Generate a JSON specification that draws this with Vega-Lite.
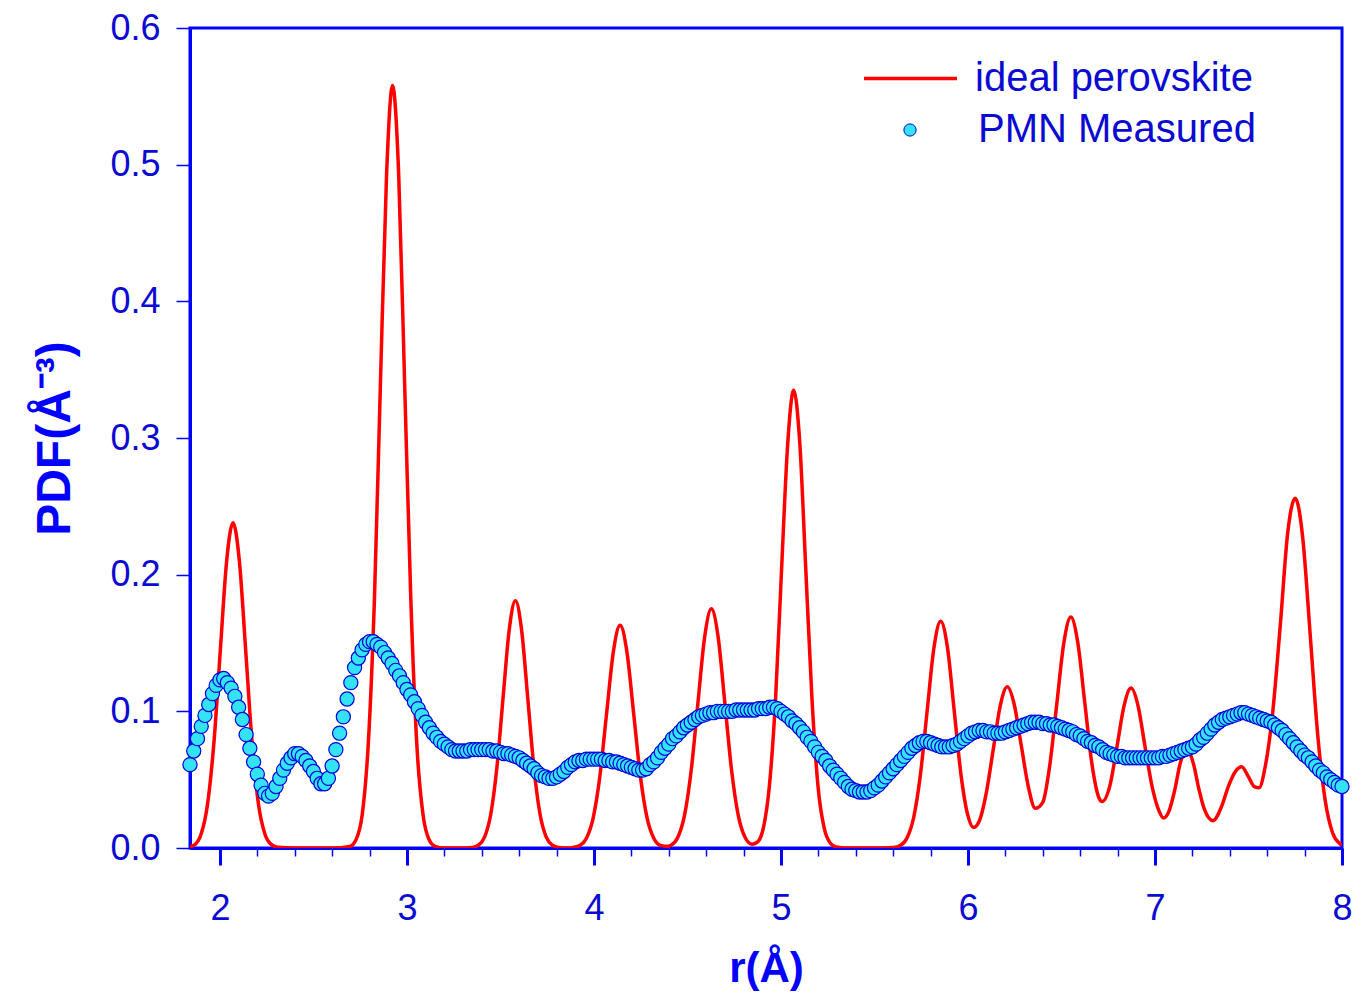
{
  "$schema": "https://vega.github.io/schema/vega-lite/v6.json",
  "width": 1152,
  "height": 820,
  "autosize": {"type": "none"},
  "padding": {"left": 190, "top": 28, "right": 14, "bottom": 156},
  "background": "white",
  "config": {
    "view": {"stroke": "#0000ff", "strokeWidth": 3},
    "font": "Liberation Sans",
    "axis": {"domainColor": "#0000ff", "domainWidth": 3, "tickColor": "#0000ff", "grid": false,
      "labelColor": "#0a0ad2", "labelFont": "Liberation Sans", "labelFontSize": 36,
      "titleColor": "#0000ff", "titleFont": "Liberation Sans", "titleFontWeight": "bold", "titleFontSize": 40},
    "legend": {"labelFont": "Liberation Sans", "labelFontSize": 40, "labelColor": "#0a0ad2", "padding": 0, "labelLimit": 0}
  },
  "datasets": {
    "ideal": [
      {"r":1.84,"g":0.001},{"r":1.87,"g":0.003},{"r":1.9,"g":0.0104},{"r":1.934,"g":0.0322},{"r":1.968,"g":0.0773},{"r":2.002,"g":0.1443},{"r":2.036,"g":0.21},{"r":2.07,"g":0.238},{"r":2.104,"g":0.21},{"r":2.138,"g":0.1443},{"r":2.172,"g":0.0773},{"r":2.206,"g":0.0322},{"r":2.24,"g":0.0104},{"r":2.274,"g":0.0026},{"r":2.31,"g":0.0005},{"r":2.4,"g":0},{"r":2.6,"g":0},
      {"r":2.695,"g":0.0012},{"r":2.728,"g":0.0062},{"r":2.761,"g":0.0245},{"r":2.793,"g":0.0755},{"r":2.826,"g":0.1812},{"r":2.858,"g":0.3384},{"r":2.891,"g":0.4924},{"r":2.923,"g":0.558},{"r":2.956,"g":0.4924},{"r":2.988,"g":0.3384},{"r":3.021,"g":0.1812},{"r":3.053,"g":0.0755},{"r":3.086,"g":0.0245},{"r":3.118,"g":0.0062},{"r":3.151,"g":0.0012},{"r":3.2,"g":0},{"r":3.3,"g":0},
      {"r":3.349,"g":0.0004},{"r":3.382,"g":0.002},{"r":3.415,"g":0.0079},{"r":3.448,"g":0.0245},{"r":3.481,"g":0.0588},{"r":3.514,"g":0.1098},{"r":3.547,"g":0.1597},{"r":3.58,"g":0.181},{"r":3.613,"g":0.1597},{"r":3.646,"g":0.1098},{"r":3.679,"g":0.0588},{"r":3.712,"g":0.0245},{"r":3.745,"g":0.0079},{"r":3.778,"g":0.002},{"r":3.811,"g":0.0004},{"r":3.86,"g":0},
      {"r":3.888,"g":0.0004},{"r":3.924,"g":0.0018},{"r":3.96,"g":0.0072},{"r":3.996,"g":0.0221},{"r":4.032,"g":0.0529},{"r":4.068,"g":0.0989},{"r":4.104,"g":0.1438},{"r":4.14,"g":0.163},{"r":4.176,"g":0.1438},{"r":4.212,"g":0.0989},{"r":4.248,"g":0.0529},{"r":4.284,"g":0.0221},{"r":4.32,"g":0.0072},{"r":4.356,"g":0.0019},{"r":4.392,"g":0.0012},
      {"r":4.412,"g":0.002},{"r":4.448,"g":0.0077},{"r":4.484,"g":0.0237},{"r":4.52,"g":0.0568},{"r":4.556,"g":0.1061},{"r":4.592,"g":0.1544},{"r":4.628,"g":0.175},{"r":4.664,"g":0.1544},{"r":4.7,"g":0.1061},{"r":4.736,"g":0.0568},{"r":4.772,"g":0.0237},{"r":4.808,"g":0.0078},{"r":4.844,"g":0.0028},
      {"r":4.873,"g":0.0042},{"r":4.906,"g":0.0147},{"r":4.938,"g":0.0453},{"r":4.971,"g":0.1088},{"r":5.003,"g":0.2032},{"r":5.036,"g":0.2956},{"r":5.068,"g":0.335},{"r":5.101,"g":0.2956},{"r":5.133,"g":0.2032},{"r":5.166,"g":0.1088},{"r":5.198,"g":0.0453},{"r":5.231,"g":0.0147},{"r":5.263,"g":0.0037},{"r":5.296,"g":0.0007},{"r":5.35,"g":0},{"r":5.55,"g":0},
      {"r":5.6,"g":0.0003},{"r":5.638,"g":0.0018},{"r":5.674,"g":0.0073},{"r":5.71,"g":0.0225},{"r":5.746,"g":0.0539},{"r":5.782,"g":0.1007},{"r":5.818,"g":0.1465},{"r":5.854,"g":0.166},{"r":5.89,"g":0.147},{"r":5.926,"g":0.101},{"r":5.962,"g":0.0544},{"r":5.998,"g":0.0246},{"r":6.03,"g":0.015},
      {"r":6.06,"g":0.0196},{"r":6.0975,"g":0.04},{"r":6.135,"g":0.072},{"r":6.1725,"g":0.104},{"r":6.21,"g":0.118},{"r":6.2475,"g":0.105},{"r":6.285,"g":0.075},{"r":6.3225,"g":0.045},{"r":6.36,"g":0.029},
      {"r":6.4,"g":0.0334},{"r":6.4375,"g":0.0607},{"r":6.475,"g":0.1055},{"r":6.5125,"g":0.15},{"r":6.55,"g":0.169},{"r":6.5875,"g":0.15},{"r":6.625,"g":0.1058},{"r":6.6625,"g":0.0618},{"r":6.7,"g":0.0368},{"r":6.718,"g":0.034},
      {"r":6.7595,"g":0.046},{"r":6.797,"g":0.0744},{"r":6.8345,"g":0.104},{"r":6.872,"g":0.117},{"r":6.9095,"g":0.104},{"r":6.947,"g":0.074},{"r":6.9845,"g":0.045},{"r":7.022,"g":0.027},{"r":7.045,"g":0.022},
      {"r":7.075,"g":0.027},{"r":7.105,"g":0.042},{"r":7.135,"g":0.062},{"r":7.17,"g":0.072},{"r":7.205,"g":0.062},{"r":7.235,"g":0.043},{"r":7.265,"g":0.028},{"r":7.31,"g":0.02},{"r":7.355,"g":0.03},{"r":7.395,"g":0.046},{"r":7.43,"g":0.056},{"r":7.463,"g":0.0595},{"r":7.5,"g":0.052},{"r":7.53,"g":0.045},{"r":7.556,"g":0.044},
      {"r":7.59,"g":0.06},{"r":7.63,"g":0.1},{"r":7.67,"g":0.163},{"r":7.71,"g":0.231},{"r":7.75,"g":0.256},{"r":7.79,"g":0.227},{"r":7.83,"g":0.156},{"r":7.87,"g":0.083},{"r":7.91,"g":0.035},{"r":7.95,"g":0.011},{"r":7.99,"g":0.003},{"r":8.0,"g":0.002}
    ],
    "pmn": [
      {"r":1.84,"g":0.061},{"r":1.86,"g":0.071},{"r":1.88,"g":0.08},{"r":1.9,"g":0.089},{"r":1.92,"g":0.097},{"r":1.94,"g":0.105},{"r":1.96,"g":0.113},{"r":1.98,"g":0.119},{"r":2.0,"g":0.123},{"r":2.02,"g":0.124},
      {"r":2.04,"g":0.121},{"r":2.06,"g":0.117},{"r":2.08,"g":0.111},{"r":2.1,"g":0.103},{"r":2.12,"g":0.094},{"r":2.14,"g":0.083},{"r":2.16,"g":0.073},{"r":2.18,"g":0.063},{"r":2.2,"g":0.054},{"r":2.22,"g":0.046},
      {"r":2.24,"g":0.04},{"r":2.26,"g":0.038},{"r":2.28,"g":0.04},{"r":2.3,"g":0.045},{"r":2.32,"g":0.051},{"r":2.34,"g":0.057},{"r":2.36,"g":0.062},{"r":2.38,"g":0.066},{"r":2.4,"g":0.069},{"r":2.42,"g":0.069},
      {"r":2.44,"g":0.067},{"r":2.46,"g":0.064},{"r":2.48,"g":0.06},{"r":2.5,"g":0.056},{"r":2.52,"g":0.051},{"r":2.54,"g":0.047},{"r":2.56,"g":0.047},{"r":2.58,"g":0.051},{"r":2.6,"g":0.06},{"r":2.62,"g":0.072},
      {"r":2.64,"g":0.084},{"r":2.66,"g":0.096},{"r":2.68,"g":0.109},{"r":2.7,"g":0.121},{"r":2.72,"g":0.132},{"r":2.74,"g":0.139},{"r":2.76,"g":0.145},{"r":2.78,"g":0.149},{"r":2.8,"g":0.151},{"r":2.82,"g":0.151},
      {"r":2.84,"g":0.149},{"r":2.86,"g":0.147},{"r":2.88,"g":0.143},{"r":2.9,"g":0.139},{"r":2.92,"g":0.135},{"r":2.94,"g":0.13},{"r":2.96,"g":0.126},{"r":2.98,"g":0.121},{"r":3.0,"g":0.116},{"r":3.02,"g":0.112},
      {"r":3.04,"g":0.107},{"r":3.06,"g":0.102},{"r":3.08,"g":0.097},{"r":3.1,"g":0.092},{"r":3.12,"g":0.088},{"r":3.14,"g":0.084},{"r":3.16,"g":0.081},{"r":3.18,"g":0.078},{"r":3.2,"g":0.076},{"r":3.22,"g":0.074},
      {"r":3.24,"g":0.072},{"r":3.26,"g":0.071},{"r":3.28,"g":0.071},{"r":3.3,"g":0.071},{"r":3.32,"g":0.071},{"r":3.34,"g":0.072},{"r":3.36,"g":0.072},{"r":3.38,"g":0.072},{"r":3.4,"g":0.072},{"r":3.42,"g":0.072},
      {"r":3.44,"g":0.072},{"r":3.46,"g":0.071},{"r":3.48,"g":0.071},{"r":3.5,"g":0.07},{"r":3.52,"g":0.069},{"r":3.54,"g":0.069},{"r":3.56,"g":0.068},{"r":3.58,"g":0.067},{"r":3.6,"g":0.066},{"r":3.62,"g":0.064},
      {"r":3.64,"g":0.062},{"r":3.66,"g":0.06},{"r":3.68,"g":0.058},{"r":3.7,"g":0.055},{"r":3.72,"g":0.053},{"r":3.74,"g":0.052},{"r":3.76,"g":0.051},{"r":3.78,"g":0.051},{"r":3.8,"g":0.052},{"r":3.82,"g":0.054},
      {"r":3.84,"g":0.056},{"r":3.86,"g":0.059},{"r":3.88,"g":0.061},{"r":3.9,"g":0.063},{"r":3.92,"g":0.064},{"r":3.94,"g":0.064},{"r":3.96,"g":0.065},{"r":3.98,"g":0.065},{"r":4.0,"g":0.065},{"r":4.02,"g":0.065},
      {"r":4.04,"g":0.065},{"r":4.06,"g":0.064},{"r":4.08,"g":0.064},{"r":4.1,"g":0.063},{"r":4.12,"g":0.063},{"r":4.14,"g":0.062},{"r":4.16,"g":0.061},{"r":4.18,"g":0.06},{"r":4.2,"g":0.059},{"r":4.22,"g":0.058},
      {"r":4.24,"g":0.057},{"r":4.26,"g":0.057},{"r":4.28,"g":0.058},{"r":4.3,"g":0.061},{"r":4.32,"g":0.063},{"r":4.34,"g":0.066},{"r":4.36,"g":0.07},{"r":4.38,"g":0.073},{"r":4.4,"g":0.076},{"r":4.42,"g":0.08},
      {"r":4.44,"g":0.082},{"r":4.46,"g":0.085},{"r":4.48,"g":0.088},{"r":4.5,"g":0.09},{"r":4.52,"g":0.092},{"r":4.54,"g":0.094},{"r":4.56,"g":0.096},{"r":4.58,"g":0.097},{"r":4.6,"g":0.098},{"r":4.62,"g":0.099},
      {"r":4.64,"g":0.099},{"r":4.66,"g":0.1},{"r":4.68,"g":0.1},{"r":4.7,"g":0.1},{"r":4.72,"g":0.1},{"r":4.74,"g":0.1},{"r":4.76,"g":0.101},{"r":4.78,"g":0.101},{"r":4.8,"g":0.101},{"r":4.82,"g":0.101},
      {"r":4.84,"g":0.101},{"r":4.86,"g":0.101},{"r":4.88,"g":0.102},{"r":4.9,"g":0.102},{"r":4.92,"g":0.102},{"r":4.94,"g":0.103},{"r":4.96,"g":0.103},{"r":4.98,"g":0.102},{"r":5.0,"g":0.1},{"r":5.02,"g":0.098},
      {"r":5.04,"g":0.096},{"r":5.06,"g":0.093},{"r":5.08,"g":0.091},{"r":5.1,"g":0.088},{"r":5.12,"g":0.085},{"r":5.14,"g":0.081},{"r":5.16,"g":0.078},{"r":5.18,"g":0.074},{"r":5.2,"g":0.07},{"r":5.22,"g":0.067},
      {"r":5.24,"g":0.064},{"r":5.26,"g":0.06},{"r":5.28,"g":0.057},{"r":5.3,"g":0.054},{"r":5.32,"g":0.051},{"r":5.34,"g":0.048},{"r":5.36,"g":0.045},{"r":5.38,"g":0.043},{"r":5.4,"g":0.042},{"r":5.42,"g":0.041},
      {"r":5.44,"g":0.041},{"r":5.46,"g":0.041},{"r":5.48,"g":0.042},{"r":5.5,"g":0.044},{"r":5.52,"g":0.046},{"r":5.54,"g":0.049},{"r":5.56,"g":0.052},{"r":5.58,"g":0.055},{"r":5.6,"g":0.058},{"r":5.62,"g":0.061},
      {"r":5.64,"g":0.064},{"r":5.66,"g":0.067},{"r":5.68,"g":0.07},{"r":5.7,"g":0.073},{"r":5.72,"g":0.075},{"r":5.74,"g":0.077},{"r":5.76,"g":0.078},{"r":5.78,"g":0.078},{"r":5.8,"g":0.077},{"r":5.82,"g":0.076},
      {"r":5.84,"g":0.075},{"r":5.86,"g":0.074},{"r":5.88,"g":0.074},{"r":5.9,"g":0.074},{"r":5.92,"g":0.075},{"r":5.94,"g":0.076},{"r":5.96,"g":0.078},{"r":5.98,"g":0.08},{"r":6.0,"g":0.082},{"r":6.02,"g":0.084},
      {"r":6.04,"g":0.085},{"r":6.06,"g":0.086},{"r":6.08,"g":0.086},{"r":6.1,"g":0.085},{"r":6.12,"g":0.085},{"r":6.14,"g":0.084},{"r":6.16,"g":0.084},{"r":6.18,"g":0.084},{"r":6.2,"g":0.085},{"r":6.22,"g":0.086},
      {"r":6.24,"g":0.087},{"r":6.26,"g":0.088},{"r":6.28,"g":0.089},{"r":6.3,"g":0.09},{"r":6.32,"g":0.091},{"r":6.34,"g":0.092},{"r":6.36,"g":0.092},{"r":6.38,"g":0.092},{"r":6.4,"g":0.091},{"r":6.42,"g":0.091},
      {"r":6.44,"g":0.09},{"r":6.46,"g":0.09},{"r":6.48,"g":0.089},{"r":6.5,"g":0.088},{"r":6.52,"g":0.087},{"r":6.54,"g":0.086},{"r":6.56,"g":0.085},{"r":6.58,"g":0.083},{"r":6.6,"g":0.082},{"r":6.62,"g":0.08},
      {"r":6.64,"g":0.078},{"r":6.66,"g":0.077},{"r":6.68,"g":0.075},{"r":6.7,"g":0.074},{"r":6.72,"g":0.072},{"r":6.74,"g":0.07},{"r":6.76,"g":0.069},{"r":6.78,"g":0.068},{"r":6.8,"g":0.067},{"r":6.82,"g":0.067},
      {"r":6.84,"g":0.066},{"r":6.86,"g":0.066},{"r":6.88,"g":0.066},{"r":6.9,"g":0.066},{"r":6.92,"g":0.066},{"r":6.94,"g":0.066},{"r":6.96,"g":0.066},{"r":6.98,"g":0.066},{"r":7.0,"g":0.066},{"r":7.02,"g":0.066},
      {"r":7.04,"g":0.067},{"r":7.06,"g":0.067},{"r":7.08,"g":0.068},{"r":7.1,"g":0.069},{"r":7.12,"g":0.07},{"r":7.14,"g":0.071},{"r":7.16,"g":0.072},{"r":7.18,"g":0.073},{"r":7.2,"g":0.074},{"r":7.22,"g":0.076},
      {"r":7.24,"g":0.079},{"r":7.26,"g":0.081},{"r":7.28,"g":0.084},{"r":7.3,"g":0.087},{"r":7.32,"g":0.09},{"r":7.34,"g":0.092},{"r":7.36,"g":0.094},{"r":7.38,"g":0.095},{"r":7.4,"g":0.096},{"r":7.42,"g":0.097},
      {"r":7.44,"g":0.098},{"r":7.46,"g":0.099},{"r":7.48,"g":0.099},{"r":7.5,"g":0.098},{"r":7.52,"g":0.097},{"r":7.54,"g":0.096},{"r":7.56,"g":0.095},{"r":7.58,"g":0.094},{"r":7.6,"g":0.093},{"r":7.62,"g":0.092},
      {"r":7.64,"g":0.09},{"r":7.66,"g":0.088},{"r":7.68,"g":0.086},{"r":7.7,"g":0.083},{"r":7.72,"g":0.08},{"r":7.74,"g":0.077},{"r":7.76,"g":0.074},{"r":7.78,"g":0.071},{"r":7.8,"g":0.068},{"r":7.82,"g":0.066},
      {"r":7.84,"g":0.063},{"r":7.86,"g":0.06},{"r":7.88,"g":0.057},{"r":7.9,"g":0.055},{"r":7.92,"g":0.052},{"r":7.94,"g":0.05},{"r":7.96,"g":0.048},{"r":7.98,"g":0.046},{"r":8.0,"g":0.045}
    ]
  },
  "layer": [
    {
      "data": {"name": "ideal"},
      "mark": {"type": "line", "interpolate": "monotone", "strokeWidth": 3.5, "clip": true},
      "encoding": {
        "x": {"field": "r", "type": "quantitative",
          "scale": {"domain": [1.84, 8], "nice": false, "zero": false},
          "axis": {
            "values": [2, 2.2, 2.4, 2.6, 2.8, 3, 3.2, 3.4, 3.6, 3.8, 4, 4.2, 4.4, 4.6, 4.8, 5, 5.2, 5.4, 5.6, 5.8, 6, 6.2, 6.4, 6.6, 6.8, 7, 7.2, 7.4, 7.6, 7.8, 8],
            "tickCount": 100,
            "labelExpr": "abs(datum.value - round(datum.value)) < 0.001 ? format(datum.value, 'd') : ''",
            "tickSize": {"condition": {"test": "abs(datum.value - round(datum.value)) < 0.001", "value": 17}, "value": 8},
            "tickWidth": {"condition": {"test": "abs(datum.value - round(datum.value)) < 0.001", "value": 3}, "value": 1.5},
            "labelPadding": 26,
            "labelFlush": false,
            "labelOverlap": false,
            "title": "r(Å)",
            "titleFontSize": 42,
            "titlePadding": 22
          }},
        "y": {"field": "g", "type": "quantitative",
          "scale": {"domain": [0, 0.6], "nice": false},
          "axis": {"values": [0, 0.1, 0.2, 0.3, 0.4, 0.5, 0.6], "tickCount": 100, "format": ".1f", "tickSize": 14, "tickWidth": 1.5,
            "labelPadding": 16, "title": "PDF(Å⁻³)", "titleFontSize": 48, "titlePadding": 30}},
        "stroke": {"datum": "ideal perovskite", "type": "nominal",
          "scale": {"domain": ["ideal perovskite"], "range": ["#ff0000"]},
          "legend": {"title": null, "orient": "none", "legendX": 672, "legendY": 2, "symbolType": "stroke", "symbolSize": 8649, "symbolStrokeWidth": 3.5, "labelOffset": 16}}
      }
    },
    {
      "data": {"name": "pmn"},
      "mark": {"type": "point", "filled": true, "shape": "circle", "size": 200, "stroke": "#0000d8", "strokeWidth": 1.2, "opacity": 1},
      "encoding": {
        "x": {"field": "r", "type": "quantitative"},
        "y": {"field": "g", "type": "quantitative"},
        "fill": {"datum": "PMN Measured", "type": "nominal",
          "scale": {"domain": ["PMN Measured"], "range": ["#33e3f5"]},
          "legend": {"title": null, "orient": "none", "legendX": 700, "legendY": 82, "symbolType": "circle", "symbolSize": 150, "symbolStrokeColor": "#0000d8", "symbolStrokeWidth": 1, "symbolOpacity": 1, "labelOffset": 48}}
      }
    }
  ]
}
